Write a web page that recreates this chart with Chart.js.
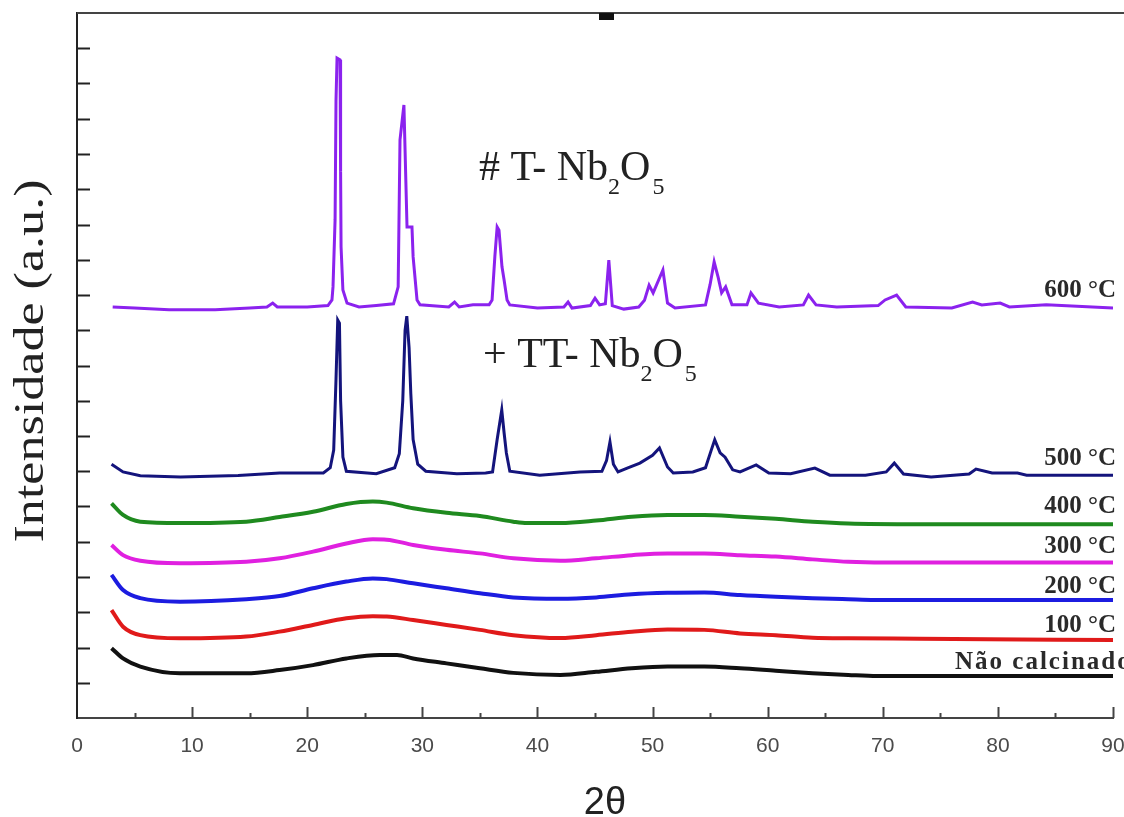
<!DOCTYPE html>
<html>
<head>
<meta charset="utf-8">
<script src="https://cdn.jsdelivr.net/npm/chart.js@4.4.1/dist/chart.umd.min.js"></script>
<style>
  html, body { margin: 0; padding: 0; background: #fff; }
  #xrd { display: block; }
</style>
</head>
<body>
<canvas id="xrd" width="1124" height="817"></canvas>
<script>
// XRD patterns of Nb2O5 calcined at different temperatures (stacked, offset)
const seriesLabels = ['Não calcinado', '100 °C', '200 °C', '300 °C', '400 °C', '500 °C', '600 °C'];
const seriesColors = ['#111111', '#e01a1a', '#1c1ce0', '#e020e0', '#1f8a1f', '#14147c', '#8b22ee'];
const xTicks = [0, 10, 20, 30, 40, 50, 60, 70, 80, 90];

// [2theta, intensity offset]
const naoCalc = [[3.0,1.98],[4.0,1.69],[5.5,1.46],[8.95,1.27],[14.7,1.27],[17.6,1.36],[20.5,1.50],[23.4,1.69],[26.3,1.79],[27.8,1.79],[29.2,1.69],[32.1,1.55],[35.0,1.41],[37.9,1.28],[42.0,1.22],[45.1,1.31],[48.2,1.41],[51.3,1.46],[54.5,1.46],[57.6,1.41],[60.7,1.34],[63.9,1.27],[67.0,1.22],[69.5,1.19],[90,1.19]];
const t100 = [[3.0,3.06],[4.0,2.59],[5.5,2.35],[8.95,2.26],[14.7,2.31],[17.6,2.45],[20.5,2.64],[23.4,2.83],[25.7,2.89],[26.9,2.88],[29.2,2.78],[32.1,2.64],[35.0,2.50],[37.9,2.35],[42.0,2.27],[45.1,2.35],[48.2,2.45],[51.3,2.51],[54.5,2.50],[57.6,2.40],[60.7,2.35],[63.9,2.28],[67.0,2.26],[73.2,2.25],[90,2.21]];
const t200 = [[3.0,4.06],[4.0,3.63],[5.5,3.40],[8.95,3.30],[14.7,3.37],[17.6,3.46],[20.5,3.68],[23.4,3.87],[25.7,3.96],[26.9,3.94],[29.2,3.82],[32.1,3.68],[35.0,3.54],[37.9,3.42],[42.0,3.38],[45.1,3.42],[48.2,3.51],[51.3,3.55],[54.5,3.56],[57.6,3.49],[60.7,3.44],[63.9,3.40],[67.0,3.37],[69.3,3.35],[90,3.35]];
const t300 = [[3.0,4.91],[4.0,4.62],[5.5,4.46],[8.95,4.39],[14.7,4.43],[17.6,4.53],[20.5,4.72],[23.4,4.95],[25.7,5.07],[26.9,5.06],[29.2,4.91],[32.1,4.77],[35.0,4.67],[37.9,4.53],[42.0,4.46],[45.1,4.53],[48.2,4.62],[51.3,4.67],[54.5,4.67],[57.6,4.62],[60.7,4.58],[63.9,4.50],[67.0,4.43],[70.1,4.41],[90,4.41]];
const t400 = [[3.0,6.09],[4.0,5.76],[5.5,5.57],[8.95,5.53],[14.7,5.57],[17.6,5.70],[20.5,5.85],[23.4,6.07],[25.7,6.14],[26.9,6.11],[29.2,5.95],[32.1,5.82],[35.0,5.73],[37.9,5.57],[39.1,5.53],[42.0,5.53],[45.1,5.60],[48.2,5.71],[51.3,5.76],[54.5,5.76],[57.6,5.71],[60.7,5.65],[63.9,5.57],[67.0,5.52],[73.2,5.50],[90,5.50]];
const t500 = [[3.0,7.2],[4.0,6.98],[5.5,6.87],[9,6.84],[14,6.88],[17.6,6.95],[21.4,6.95],[22.0,7.1],[22.3,7.6],[22.5,9.6],[22.65,11.29],[22.8,11.2],[22.9,9.0],[23.1,7.4],[23.4,7.0],[26,6.93],[27.6,7.1],[28.0,7.5],[28.3,9.0],[28.5,11.0],[28.65,11.4],[28.85,10.5],[29.0,9.2],[29.2,7.9],[29.6,7.2],[30.3,7.0],[33,6.93],[35.5,6.95],[36.1,6.98],[36.5,7.9],[36.9,8.74],[37.1,8.1],[37.3,7.52],[37.6,7.0],[40.2,6.89],[43.7,6.98],[45.6,7.0],[46.0,7.3],[46.3,7.83],[46.6,7.2],[47.0,6.98],[47.8,7.09],[48.9,7.23],[50.0,7.45],[50.6,7.66],[51.3,7.12],[51.8,6.95],[53.5,6.98],[54.6,7.1],[55.1,7.6],[55.4,7.89],[55.87,7.52],[56.3,7.4],[56.96,7.04],[57.6,6.98],[59.0,7.18],[60.1,6.95],[62,6.93],[64.1,7.09],[65.4,6.89],[68.5,6.89],[70.3,6.98],[71.0,7.23],[71.8,6.92],[74.2,6.84],[77.5,6.92],[78.1,7.06],[79.5,6.95],[81.7,6.95],[82.5,6.89],[90,6.89]];
const t600 = [[3.1,11.66],[5,11.63],[8,11.58],[12,11.58],[15,11.63],[16.5,11.66],[17.0,11.77],[17.4,11.66],[20,11.66],[21.8,11.7],[22.15,11.86],[22.24,12.23],[22.42,14.13],[22.5,17.5],[22.59,18.72],[22.85,18.67],[22.9,15.5],[22.94,13.36],[23.1,12.14],[23.46,11.77],[24.5,11.66],[26,11.7],[27.5,11.75],[27.9,12.23],[28.06,16.4],[28.4,17.39],[28.67,13.93],[29.1,13.93],[29.2,13.08],[29.54,11.86],[29.8,11.72],[32.3,11.66],[32.8,11.8],[33.2,11.66],[34.4,11.72],[35.8,11.72],[36.06,11.86],[36.3,13.09],[36.5,13.93],[36.66,13.84],[36.92,12.8],[37.1,12.43],[37.36,11.86],[37.6,11.72],[40,11.63],[42.3,11.66],[42.66,11.8],[43.0,11.63],[44.6,11.7],[45.0,11.91],[45.4,11.72],[45.9,11.75],[46.2,12.99],[46.5,11.7],[47.5,11.6],[48.8,11.66],[49.3,11.85],[49.7,12.28],[50.05,12.06],[50.9,12.71],[51.3,11.77],[51.95,11.63],[54.6,11.72],[55.0,12.3],[55.35,12.94],[55.7,12.5],[56.0,12.06],[56.35,12.23],[56.9,11.72],[58.2,11.72],[58.55,12.06],[59.2,11.77],[61,11.66],[63.1,11.72],[63.55,12.0],[64.2,11.72],[66,11.66],[69.6,11.7],[70.2,11.86],[71.2,12.0],[72.0,11.66],[76,11.63],[77.8,11.8],[78.6,11.72],[80.2,11.77],[81,11.66],[84.2,11.72],[90,11.63]];

const seriesData = [naoCalc, t100, t200, t300, t400, t500, t600];
const crystalline = [false, false, false, false, false, true, true];

// label baselines next to each curve (px)
const tempLabelY = [669, 632, 593, 553, 513, 465, 297];

const toPts = arr => arr.map(p => ({ x: p[0], y: p[1] }));

// inward tick marks, titles and annotations
const decorPlugin = {
    id: 'decor',
    afterDraw(chart) {
        const ctx = chart.ctx;
        const xs = chart.scales.x, ys = chart.scales.y;
        const area = chart.chartArea;
        ctx.save();
        // top frame line
        ctx.strokeStyle = '#444';
        ctx.lineWidth = 2;
        ctx.beginPath();
        ctx.moveTo(area.left, area.top);
        ctx.lineTo(chart.width, area.top);
        ctx.stroke();
        ctx.fillStyle = '#111';
        ctx.fillRect(599, area.top, 15, 7);

        // y ticks (inward)
        ctx.strokeStyle = '#222';
        ctx.lineWidth = 2;
        ys.ticks.forEach(t => {
            if (t.value <= 0 || t.value >= 20) return;
            const y = Math.round(ys.getPixelForValue(t.value)) + 0.5;
            ctx.beginPath();
            ctx.moveTo(area.left, y);
            ctx.lineTo(area.left + 13, y);
            ctx.stroke();
        });
        // x ticks (inward, minor every 5)
        ctx.strokeStyle = '#444';
        xs.ticks.forEach(t => {
            if (t.value <= 0) return;
            const x = Math.round(xs.getPixelForValue(t.value)) + 0.5;
            const len = t.value % 10 === 0 ? 11 : 5;
            ctx.beginPath();
            ctx.moveTo(x, area.bottom);
            ctx.lineTo(x, area.bottom - len);
            ctx.stroke();
        });

        // axis titles
        ctx.fillStyle = '#222';
        ctx.font = '38px "Liberation Sans", Arial, sans-serif';
        ctx.textAlign = 'center';
        ctx.textBaseline = 'alphabetic';
        ctx.fillText('2θ', 605, 814);

        ctx.save();
        ctx.translate(43, 361);
        ctx.rotate(-Math.PI / 2);
        ctx.font = '42px "Liberation Serif", "Times New Roman", serif';
        const yt = 'Intensidade (a.u.)';
        const w = ctx.measureText(yt).width;
        ctx.scale(363 / w, 1);
        ctx.fillText(yt, 0, 0);
        ctx.restore();

        // temperature labels
        ctx.font = 'bold 25px "Liberation Serif", "Times New Roman", serif';
        ctx.fillStyle = '#2a2a2a';
        ctx.textAlign = 'right';
        for (let i = 1; i < seriesLabels.length; i++) {
            ctx.fillText(seriesLabels[i], 1116, tempLabelY[i]);
        }
        ctx.textAlign = 'left';
        ctx.save();
        ctx.letterSpacing = '2px';
        ctx.fillText(seriesLabels[0], 955, tempLabelY[0]);
        ctx.restore();

        // phase annotations
        drawFormula(ctx, '# T- Nb', 479, 180);
        drawFormula(ctx, '+ TT- Nb', 483, 367);
        ctx.restore();
    }
};

function drawFormula(ctx, head, x, y) {
    const big = '42px "Liberation Serif", "Times New Roman", serif';
    const small = '24px "Liberation Serif", "Times New Roman", serif';
    ctx.fillStyle = '#222';
    ctx.textAlign = 'left';
    ctx.font = big;
    ctx.fillText(head, x, y);
    x += ctx.measureText(head).width;
    ctx.font = small;
    ctx.fillText('2', x, y + 14);
    x += ctx.measureText('2').width;
    ctx.font = big;
    ctx.fillText('O', x, y);
    x += ctx.measureText('O').width + 2;
    ctx.font = small;
    ctx.fillText('5', x, y + 14);
}

const datasets = seriesData.map((d, i) => ({
    label: seriesLabels[i],
    data: toPts(d),
    borderColor: seriesColors[i],
    borderWidth: crystalline[i] ? 3 : 4,
    pointRadius: 0,
    fill: false,
    tension: crystalline[i] ? 0 : 0.35,
    cubicInterpolationMode: crystalline[i] ? 'default' : 'monotone'
}));

new Chart(document.getElementById('xrd'), {
    type: 'line',
    data: { datasets: datasets },
    options: {
        responsive: false,
        animation: false,
        devicePixelRatio: 1,
        layout: { padding: { top: 13, right: 11, left: 0, bottom: 0 } },
        plugins: { legend: { display: false }, tooltip: { enabled: false } },
        scales: {
            x: {
                type: 'linear',
                min: 0, max: 90,
                afterFit: s => { s.height = 99; s.paddingLeft = 0; s.paddingRight = 0; },
                afterBuildTicks: s => {
                    const t = [];
                    for (let v = 0; v <= 90; v += 5) t.push({ value: v });
                    s.ticks = t;
                },
                ticks: {
                    autoSkip: false,
                    maxRotation: 0,
                    padding: 8,
                    color: '#4a4a4a',
                    font: { family: '"Liberation Sans", Arial, sans-serif', size: 21 },
                    callback: v => xTicks.includes(v) ? String(v) : ''
                },
                grid: { display: false },
                border: { display: true, color: '#444', width: 2 }
            },
            y: {
                type: 'linear',
                min: 0, max: 20,
                afterFit: s => { s.width = 77; },
                ticks: { display: false, stepSize: 1 },
                grid: { display: false },
                border: { display: true, color: '#222', width: 2 }
            }
        }
    },
    plugins: [decorPlugin]
});
</script>
</body>
</html>
